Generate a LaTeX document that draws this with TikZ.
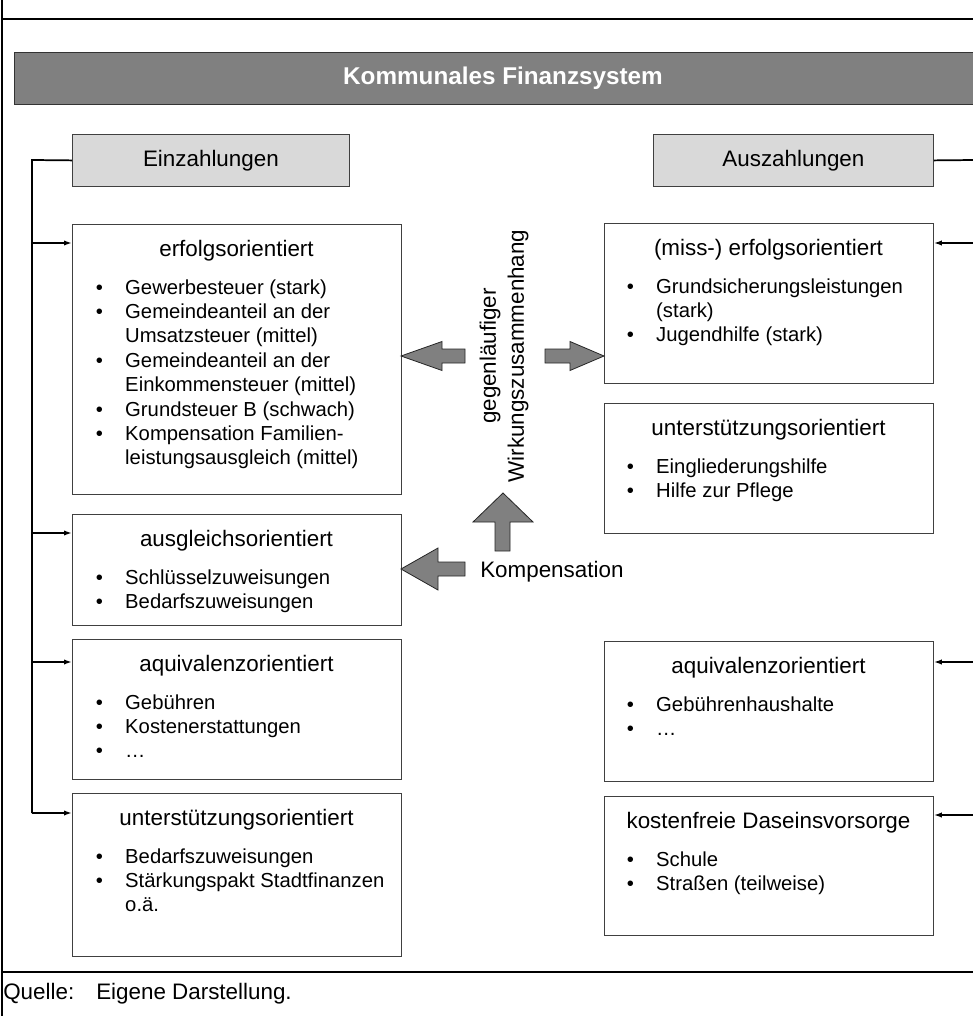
\documentclass[tikz,border=0pt]{standalone}
\usepackage{fontspec}
\setmainfont{Liberation Sans}
\usetikzlibrary{arrows.meta}
\newcommand{\hfs}{\fontsize{16.8}{21}\selectfont}
\newcommand{\tfs}{\fontsize{18.2}{22}\selectfont}
\newcommand{\bfsz}{\fontsize{15.2}{18.3}\selectfont}
\newcommand{\bu}[1]{\hbox{\makebox[22.1pt][l]{•}#1}}
\newcommand{\bc}[1]{\hbox{\hspace{22.1pt}#1}}
\newcommand{\blist}[1]{\vtop{\bfsz\baselineskip=18.3pt\lineskiplimit=-30pt\lineskip=0pt #1}}
\definecolor{bargray}{HTML}{808080}
\definecolor{hdrgray}{HTML}{D9D9D9}
\tikzset{
  box/.style={draw=black!75, line width=0.6pt, fill=white, inner sep=0pt, anchor=north west},
  hdr/.style={draw=black!75, line width=0.6pt, fill=hdrgray, inner sep=0pt, anchor=north west, font=\hfs},
  head/.style={font=\hfs, anchor=base, inner sep=0pt},
  lst/.style={anchor=base west, inner sep=0pt},
  conn/.style={line width=1.3pt, black},
  tip/.style={-{Latex[length=6pt,width=4pt]}},
  bigarrow/.style={draw=black!85, line width=0.6pt, fill=bargray, line join=miter},
}
\begin{document}
\begin{tikzpicture}[x=0.75pt,y=-0.75pt]
\useasboundingbox (0,0) rectangle (973,1016);
% frame
\draw[line width=0.8pt] (2,0) -- (2,1016);
\draw[line width=0.8pt] (2,19) -- (980,19);
\draw[line width=0.8pt] (2,972) -- (980,972);
% title bar
\node[draw=black!80, line width=0.6pt, fill=bargray, inner sep=0pt, anchor=north west,
      minimum width=729pt, minimum height=39pt] (T) at (14,52) {};
\node[font=\tfs\bfseries, text=white, inner sep=0pt] (Tt) at (503,78) {Kommunales Finanzsystem};
% headers
\node[hdr, minimum width=207.75pt, minimum height=39pt] (E) at (72,134) {Einzahlungen};
\node[hdr, minimum width=210pt, minimum height=39pt] (A) at (653,134) {Auszahlungen};
% left boxes
\node[box, minimum width=246.75pt, minimum height=202.5pt] (L1) at (72,224) {};
\node[box, minimum width=246.75pt, minimum height=83.25pt] (L2) at (72,514) {};
\node[box, minimum width=246.75pt, minimum height=105pt] (L3) at (72,639) {};
\node[box, minimum width=246.75pt, minimum height=122.25pt] (L4) at (72,793) {};
% right boxes
\node[box, minimum width=246.75pt, minimum height=120pt] (R1) at (604,223) {};
\node[box, minimum width=246.75pt, minimum height=97.5pt] (R2) at (604,403) {};
\node[box, minimum width=246.75pt, minimum height=105pt] (R3) at (604,641) {};
\node[box, minimum width=246.75pt, minimum height=104.25pt] (R4) at (604,796) {};
% left contents
\node[head] (L1h) at (236.5,256) {erfolgsorientiert};
\node[lst] (L1l) at (95.5,294) {\blist{\bu{Gewerbesteuer (stark)}\bu{Gemeindeanteil an der}\bc{Umsatzsteuer (mittel)}\bu{Gemeindeanteil an der}\bc{Einkommensteuer (mittel)}\bu{Grundsteuer B (schwach)}\bu{Kompensation Familien-}\bc{leistungsausgleich (mittel)}}};
\node[head] (L2h) at (236.5,546) {ausgleichsorientiert};
\node[lst] (L2l) at (95.5,584) {\blist{\bu{Schlüsselzuweisungen}\bu{Bedarfszuweisungen}}};
\node[head] (L3h) at (236.5,671) {aquivalenzorientiert};
\node[lst] (L3l) at (95.5,709) {\blist{\bu{Gebühren}\bu{Kostenerstattungen}\bu{…}}};
\node[head] (L4h) at (236.5,825) {unterstützungsorientiert};
\node[lst] (L4l) at (95.5,863) {\blist{\bu{Bedarfszuweisungen}\bu{Stärkungspakt Stadtfinanzen}\bc{o.ä.}}};
% right contents
\node[head] (R1h) at (768.5,255) {(miss-) erfolgsorientiert};
\node[lst] (R1l) at (626.5,293) {\blist{\bu{Grundsicherungsleistungen}\bc{(stark)}\bu{Jugendhilfe (stark)}}};
\node[head] (R2h) at (768.5,435) {unterstützungsorientiert};
\node[lst] (R2l) at (626.5,473) {\blist{\bu{Eingliederungshilfe}\bu{Hilfe zur Pflege}}};
\node[head] (R3h) at (768.5,673) {aquivalenzorientiert};
\node[lst] (R3l) at (626.5,711) {\blist{\bu{Gebührenhaushalte}\bu{…}}};
\node[head] (R4h) at (768.5,828) {kostenfreie Daseinsvorsorge};
\node[lst] (R4l) at (626.5,866) {\blist{\bu{Schule}\bu{Straßen (teilweise)}}};
% left connectors
\coordinate (bt) at (32,160);
\coordinate (a1) at (32,243);
\coordinate (a2) at (32,533);
\coordinate (a3) at (32,662);
\coordinate (a4) at (32,813);
\draw[conn] (E.west) -- (bt) -- (a4);
\draw[conn, tip] (a1) -- (a1 -| L1.west);
\draw[conn, tip] (a2) -- (a2 -| L2.west);
\draw[conn, tip] (a3) -- (a3 -| L3.west);
\draw[conn, tip] (a4) -- (a4 -| L4.west);
% right connectors
\coordinate (rt) at (975,160);
\coordinate (r1) at (975,243);
\coordinate (r3) at (975,662);
\coordinate (r4) at (975,815);
\draw[conn] (A.east) -- (rt);
\draw[conn, tip] (r1) -- (r1 -| R1.east);
\draw[conn, tip] (r3) -- (r3 -| R3.east);
\draw[conn, tip] (r4) -- (r4 -| R4.east);
% central texts
\node[font=\hfs, rotate=90, align=center, inner sep=0pt] (W) at (504,356) {gegenläufiger\\Wirkungszusammenhang};
\node[font=\hfs, anchor=base west, inner sep=0pt] (K) at (480,577) {Kompensation};
% big arrows
\draw[bigarrow] (401,356) -- (442,341.5) -- (442,349) -- (465,349) -- (465,363) -- (442,363) -- (442,370.5) -- cycle;
\draw[bigarrow] (604,356) -- (570,341.5) -- (570,349) -- (545,349) -- (545,363) -- (570,363) -- (570,370.5) -- cycle;
\draw[bigarrow] (503,493) -- (533,522) -- (510,522) -- (510,551) -- (495,551) -- (495,522) -- (473,522) -- cycle;
\draw[bigarrow] (401,569) -- (438,548) -- (438,562) -- (465,562) -- (465,576) -- (438,576) -- (438,590) -- cycle;
% source
\node[font=\hfs, anchor=base west, inner sep=0pt] (Q) at (3,999) {Quelle:};
\node[font=\hfs, anchor=base west, inner sep=0pt] (Qt) at (96,999) {Eigene Darstellung.};
\end{tikzpicture}
\end{document}
